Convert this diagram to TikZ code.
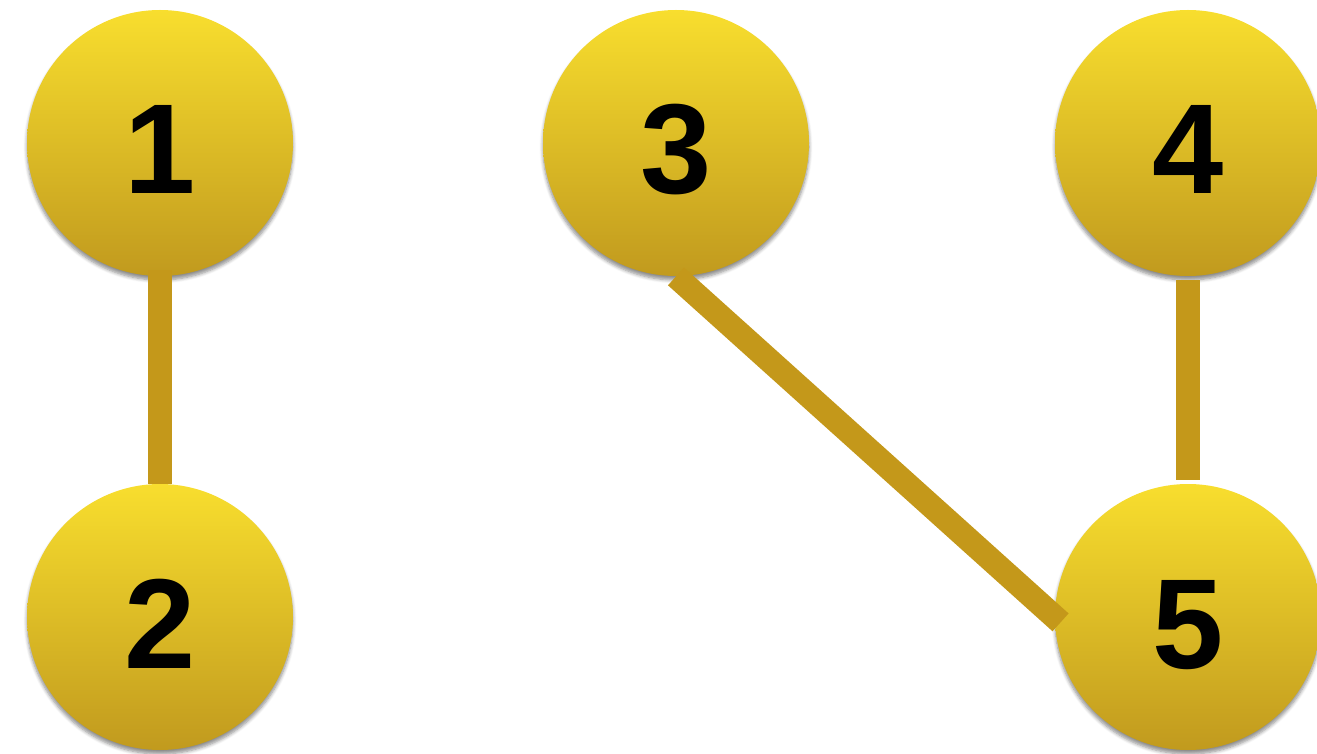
\documentclass[tikz,border=0pt]{standalone}
\usepackage{fontspec}
\newfontfamily\digitfont{Liberation Sans}
\usetikzlibrary{shadows.blur}
\definecolor{goldtop}{HTML}{F8DE2E}
\definecolor{goldbot}{HTML}{C19A1E}
\definecolor{goldedge}{HTML}{C4981A}

\begin{document}
\begin{tikzpicture}[x=.5pt,y=-.5pt,
  vertex/.style={circle,minimum size=133pt,inner sep=0pt,
    text height=51pt,text depth=0pt,
    top color=goldtop,bottom color=goldbot,
    blur shadow={shadow xshift=0pt,shadow yshift=-2pt,shadow blur steps=6,shadow opacity=45},
    font=\digitfont\bfseries\fontsize{64}{64}\selectfont},
  link/.style={draw=goldedge,line width=12pt}]
\useasboundingbox (0,0) rectangle (1317,754);
\node[vertex] (v1) at (160,143) {1};
\node[vertex] (v2) at (160,617) {2};
\node[vertex] (v3) at (676,143) {3};
\node[vertex] (v4) at (1188,143) {4};
\node[vertex] (v5) at (1188,617) {5};
\draw[link,shorten <=-3pt] (v1.south) -- (v2.north);
\draw[link,shorten <=2pt,shorten >=2pt] (v4.south) -- (v5.north);
\draw[link,shorten >=-4pt] (v3.south) -- (v5.west);
\end{tikzpicture}
\end{document}
